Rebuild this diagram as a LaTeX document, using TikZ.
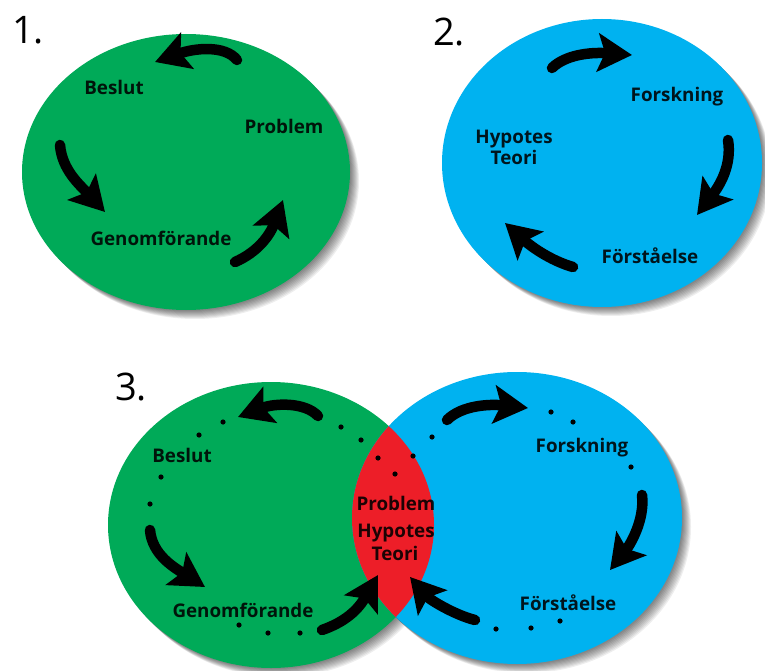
\documentclass[tikz,border=0pt]{standalone}
\usepackage{fontspec}
\setmainfont{Open Sans}
\usetikzlibrary{arrows.meta}
\definecolor{cgreen}{RGB}{0,170,88}
\definecolor{cblue}{RGB}{0,178,240}
\definecolor{cred}{RGB}{237,30,40}
\tikzset{
 lbl/.style={font=\bfseries\fontsize{18.8}{18.8}\selectfont, text=black, text opacity=0.88, inner sep=0pt, anchor=base},
 num/.style={font=\fontsize{38}{38}\selectfont, inner sep=0pt, anchor=base},
 flow/.style={draw=black, line width=10.5pt, line cap=round, -{Stealth[length=34pt,width=38pt,inset=7pt]}},
 dotmark/.style={fill=black},
 shade1/.style={fill=black, opacity=0.065},
}
\begin{document}
\begin{tikzpicture}[x=1pt,y=-1pt]
\useasboundingbox (0,0) rectangle (765,671);
\fill[white] (0,0) rectangle (765,671);
% soft shadows
\foreach \i in {1,...,9}{
  \fill[shade1] (186+\i,172+\i) ellipse [x radius=164pt, y radius=138pt];
  \fill[shade1] (602+\i,163+\i) ellipse [x radius=160pt, y radius=144pt];
  \fill[shade1] (271+\i,525+\i) ellipse [x radius=163pt, y radius=143pt];
  \fill[shade1] (517+\i,518+\i) ellipse [x radius=165pt, y radius=146pt];
}
% circles
\fill[cgreen] (186,172) ellipse [x radius=164pt, y radius=138pt];
\fill[cblue] (602,163) ellipse [x radius=160pt, y radius=144pt];
\fill[cgreen] (271,525) ellipse [x radius=163pt, y radius=143pt];
\fill[cblue] (517,518) ellipse [x radius=165pt, y radius=146pt];
\begin{scope}
  \clip (271,525) ellipse [x radius=163pt, y radius=143pt];
  \fill[cred] (517,518) ellipse [x radius=165pt, y radius=146pt];
\end{scope}
% numbers
\node[num] (n1) at (28,44) {1.};
\node[num] (n2) at (449,46) {2.};
\node[num] (n3) at (131,400) {3.};
% labels part 1
\node[lbl] (b1) at (114,95) {Beslut};
\node[lbl] (p1) at (284,134) {Problem};
\node[lbl] (g1) at (161,245) {Genomförande};
% labels part 2
\node[lbl] (f2) at (677,102) {Forskning};
\node[lbl] (h2) at (514,144) {Hypotes};
\node[lbl] (t2) at (514,165) {Teori};
\node[lbl] (u2) at (650,263) {Förståelse};
% labels part 3
\node[lbl] (b3) at (182,462) {Beslut};
\node[lbl] (g3) at (243,617) {Genomförande};
\node[lbl] (p3) at (396,510) {Problem};
\node[lbl] (h3) at (396,537) {Hypotes};
\node[lbl] (t3) at (395,560) {Teori};
\node[lbl] (f3) at (582,452) {Forskning};
\node[lbl] (u3) at (568,610) {Förståelse};
% arrows part 1
\draw[flow] (237,60) .. controls (225,45) and (195,48) .. (155,62);
\draw[flow] (60,145) .. controls (62,170) and (80,185) .. (105,212);
\draw[flow] (235,262) .. controls (258,252) and (270,235) .. (283,200);
% arrows part 2
\draw[flow] (552,68) .. controls (565,55) and (590,52) .. (632,55);
\draw[flow] (728,140) .. controls (732,165) and (720,185) .. (697,215);
\draw[flow] (573,267) .. controls (555,262) and (535,250) .. (505,223);
% arrows part 3
\draw[flow] (318,416) .. controls (305,402) and (275,403) .. (238,417);
\draw[flow] (150,530) .. controls (152,555) and (175,568) .. (205,587);
\draw[flow] (322,630) .. controls (345,622) and (358,610) .. (378,575);
\draw[flow] (447,420) .. controls (462,405) and (490,404) .. (528,408);
\draw[flow] (642,495) .. controls (645,520) and (630,545) .. (610,570);
\draw[flow] (475,620) .. controls (455,615) and (430,600) .. (410,577);
% dots
\foreach \p in {(223,422),(199,435),(161,477),(150,504),(341,427),(361,440),(378,458),(413,456),(395,474),(239,625),(268,633),(300,633),(432,437),(551,412),(573,422),(631,467),(496,629),(531,628),(560,621)}{
  \fill[dotmark] \p circle (2.6pt);
}
\end{tikzpicture}
\end{document}
